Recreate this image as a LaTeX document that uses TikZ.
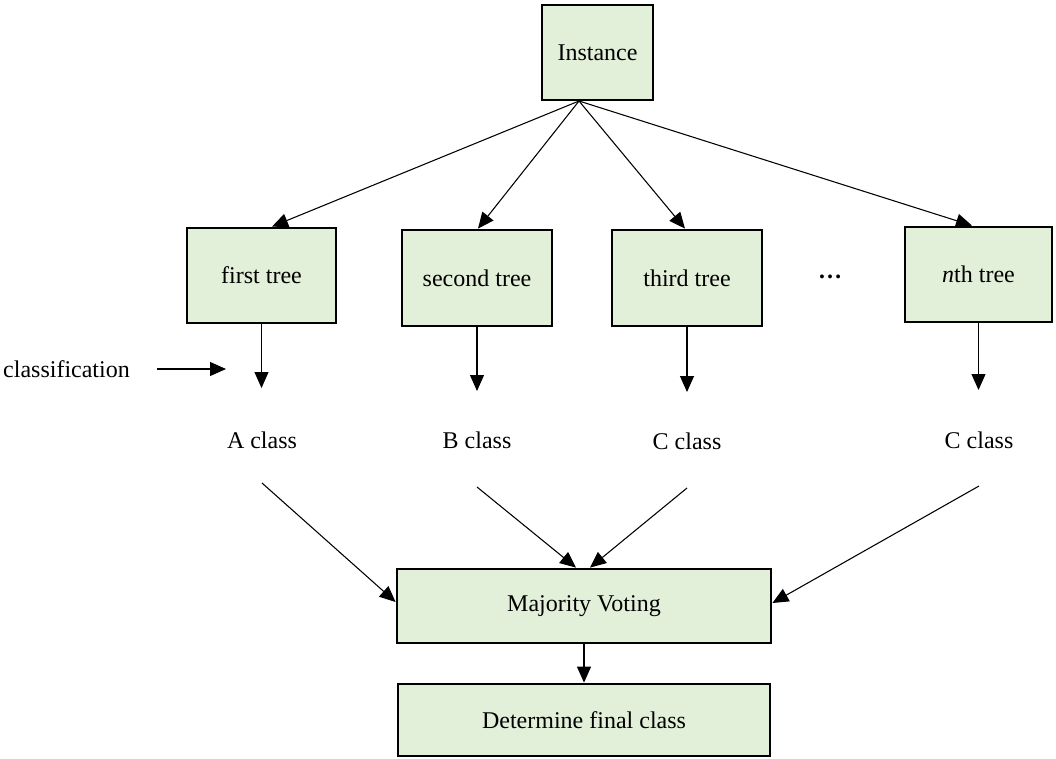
\documentclass[tikz,border=0pt]{standalone}
\usepackage{fontspec}
\setmainfont{Liberation Serif}
\usetikzlibrary{arrows.meta,calc}
\definecolor{boxfill}{HTML}{E2EFD9}
\begin{document}
\begin{tikzpicture}[x=0.75pt,y=-0.75pt,
  font=\fontsize{18}{21.6}\selectfont,
  box/.style={draw=black, line width=2.1pt, fill=boxfill, inner sep=0pt, anchor=center},
  lbl/.style={inner sep=0pt, anchor=center},
  arr/.style={line width=0.8pt, -{Triangle[length=12pt,width=10.5pt]}}]
\useasboundingbox (0,0) rectangle (1056,758);

% boxes
\node[box, minimum width=83.25pt, minimum height=71.25pt] (inst) at (597.5,52.5) {Instance};
\node[box, minimum width=111.75pt, minimum height=71.25pt] (t1) at (261.5,275.5) {first tree};
\node[box, minimum width=112.5pt, minimum height=72pt] (t2) at (477,278) {second tree};
\node[box, minimum width=112.5pt, minimum height=72pt] (t3) at (687,278) {third tree};
\node[box, minimum width=110.25pt, minimum height=71.25pt] (tn) at (978.5,274.5) {\textit{n}th tree};
\node[lbl] (dots) at (830,277) {\textbf{…}};
\node[box, minimum width=280.5pt, minimum height=55.5pt] (maj) at (584,606) {Majority Voting};
\node[box, minimum width=279pt, minimum height=54pt] (det) at (584,720) {Determine final class};

% labels
\node[lbl] (cls) at (66.5,369) {classification};
\node[lbl] (lA) at (262,440) {A class};
\node[lbl] (lB) at (477,440) {B class};
\node[lbl] (lC) at (687,441) {C class};
\node[lbl] (lN) at (979,440) {C class};

% coordinates
\coordinate (src) at (579,101);
\coordinate (tA) at (261.5,388);
\coordinate (tB) at (477,391);
\coordinate (tC) at (687,392);
\coordinate (tN) at (978.5,390);
\coordinate (sA) at (262,483);
\coordinate (sB) at (477,487);
\coordinate (sC) at (687,488);
\coordinate (sN) at (979,486);
\coordinate (c1) at (157,369);
\coordinate (c2) at (226,369);

% instance to trees
\draw[arr] (src) -- ($(t1.north)+(10.5,0)$);
\draw[arr] (src) -- ($(t2.north)+(1,0)$);
\draw[arr] (src) -- ($(t3.north)+(-2,0)$);
\draw[arr] (src) -- ($(tn.north)+(-6.5,0)$);

% trees down
\draw[arr] (t1.south) -- (tA);
\draw[arr] (t2.south) -- (tB);
\draw[arr] (t3.south) -- (tC);
\draw[arr] (tn.south) -- (tN);

% classification arrow
\draw[arr] (c1) -- (c2);

% classes to majority
\draw[arr] (sA) -- ($(maj.west)+(0,-4)$);
\draw[arr] (sB) -- ($(maj.north)+(-8,0)$);
\draw[arr] (sC) -- ($(maj.north)+(6,0)$);
\draw[arr] (sN) -- ($(maj.east)+(0,-3)$);

% majority to determine
\draw[arr] (maj.south) -- (det.north);
\end{tikzpicture}
\end{document}
